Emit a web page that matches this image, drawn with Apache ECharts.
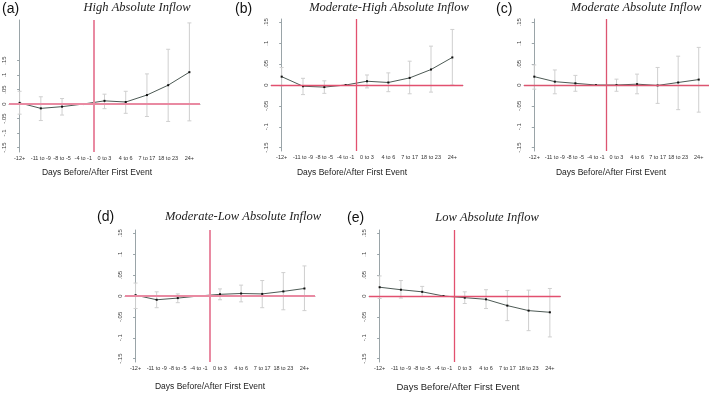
<!DOCTYPE html>
<html>
<head>
<meta charset="utf-8">
<script src="https://cdn.jsdelivr.net/npm/echarts@6/dist/echarts.min.js"></script>
<style>
  html, body { margin: 0; padding: 0; background: #fff; }
  #chart { width: 709px; height: 393px; }
</style>
</head>
<body>
<div id="chart"></div>
<script>
// day bins around the first event
const categories = ["-12+", "-11 to -9", "-8 to -5", "-4 to -1", "0 to 3", "4 to 6", "7 to 17", "18 to 23", "24+"];
const yTicks = [-0.15, -0.1, -0.05, 0, 0.05, 0.1, 0.15];
const yTickLabels = ["-.15", "-.1", "-.05", "0", ".05", ".1", ".15"];
const xTitle = "Days Before/After First Event";

// (a) High Absolute Inflow
const estA = [0.004, -0.015, -0.009, 0, 0.011, 0.007, 0.031, 0.065, 0.11];
const lowA = [-0.035, -0.057, -0.038, null, -0.016, -0.032, -0.043, -0.06, -0.058];
const highA = [0.044, 0.025, 0.019, null, 0.034, 0.044, 0.104, 0.189, 0.28];

// (b) Moderate-High Absolute Inflow
const estB = [0.02, -0.003, -0.005, 0, 0.009, 0.006, 0.017, 0.037, 0.066];
const lowB = [-0.002, -0.023, -0.02, null, -0.007, -0.016, -0.021, -0.017, 0.0];
const highB = [0.042, 0.016, 0.01, null, 0.024, 0.029, 0.057, 0.093, 0.133];

// (c) Moderate Absolute Inflow
const estC = [0.02, 0.008, 0.004, 0, 0.0, 0.002, -0.001, 0.006, 0.013];
const lowC = [-0.01, -0.021, -0.015, null, -0.015, -0.021, -0.044, -0.059, -0.065];
const highC = [0.048, 0.036, 0.023, null, 0.014, 0.026, 0.042, 0.069, 0.09];

// (d) Moderate-Low Absolute Inflow
const estD = [0.002, -0.009, -0.005, 0, 0.004, 0.006, 0.005, 0.011, 0.018];
const lowD = [-0.03, -0.028, -0.016, null, -0.009, -0.014, -0.028, -0.033, -0.035];
const highD = [0.031, 0.01, 0.005, null, 0.017, 0.026, 0.037, 0.056, 0.072];

// (e) Low Absolute Inflow
const estE = [0.021, 0.015, 0.01, 0, -0.004, -0.008, -0.023, -0.035, -0.039];
const lowE = [-0.006, -0.005, -0.001, null, -0.018, -0.03, -0.059, -0.083, -0.098];
const highE = [0.048, 0.037, 0.023, null, 0.01, 0.015, 0.013, 0.014, 0.018];

const panels = [
  { tag: "(a)", title: "High Absolute Inflow", est: estA, low: lowA, high: highA,
    grid: { left: 9, top: 20, width: 191, height: 132 }, yMin: -0.1655, yMax: 0.29,
    red: "#e98aa2", redW: 2, tagPos: [2, 9], titlePos: [137, 8], xtPos: [97, 173], xtSize: 8.5 },
  { tag: "(b)", title: "Moderate-High Absolute Inflow", est: estB, low: lowB, high: highB,
    grid: { left: 271, top: 19, width: 192, height: 132 }, yMin: -0.158, yMax: 0.158,
    red: "#e2506f", redW: 1.3, tagPos: [235, 9], titlePos: [389, 8], xtPos: [352, 173], xtSize: 8.5 },
  { tag: "(c)", title: "Moderate Absolute Inflow", est: estC, low: lowC, high: highC,
    grid: { left: 524, top: 19, width: 190.5, height: 132 }, yMin: -0.158, yMax: 0.158,
    red: "#dc5570", redW: 1.3, tagPos: [496, 9], titlePos: [636, 8], xtPos: [611, 173], xtSize: 8.5 },
  { tag: "(d)", title: "Moderate-Low Absolute Inflow", est: estD, low: lowD, high: highD,
    grid: { left: 125, top: 230, width: 190, height: 132 }, yMin: -0.158, yMax: 0.158,
    red: "#e98aa2", redW: 2, tagPos: [97, 217], titlePos: [243, 217], xtPos: [210, 387], xtSize: 8.5 },
  { tag: "(e)", title: "Low Absolute Inflow", est: estE, low: lowE, high: highE,
    grid: { left: 369, top: 230, width: 191.5, height: 132 }, yMin: -0.158, yMax: 0.158,
    red: "#e2506f", redW: 1.3, tagPos: [347, 218], titlePos: [487, 218], xtPos: [458, 387], xtSize: 9.5 }
];

const myChart = echarts.init(document.getElementById("chart"));

const grid = [], xAxis = [], yAxis = [], series = [], graphic = [];

panels.forEach(function (p, i) {
  grid.push(p.grid);

  // category axis (index 2i) and hidden value axis for the vertical line (2i+1)
  xAxis.push({
    type: "category", gridIndex: i, data: categories, boundaryGap: true,
    axisLine: { lineStyle: { color: "#9aa4a8", width: 1 } },
    axisTick: { alignWithLabel: true, length: 2.5, lineStyle: { color: "#9aa4a8" } },
    axisLabel: { interval: 0, fontSize: 5.5, color: "#333", margin: 3, fontFamily: "Liberation Sans" },
    splitLine: { show: false }
  });
  xAxis.push({ type: "value", gridIndex: i, min: -0.5, max: 8.5, show: false });

  yAxis.push({
    type: "value", gridIndex: i, min: p.yMin, max: p.yMax,
    axisLine: { show: true, lineStyle: { color: "#9aa4a8", width: 1 } },
    axisTick: { show: true, length: 2.5, customValues: yTicks, lineStyle: { color: "#9aa4a8" } },
    axisLabel: {
      customValues: yTicks, rotate: 90, fontSize: 6, color: "#444", margin: 2,
      fontFamily: "Liberation Sans",
      formatter: function (v) {
        const k = yTicks.findIndex(function (t) { return Math.abs(t - v) < 1e-6; });
        return k >= 0 ? yTickLabels[k] : "";
      }
    },
    splitLine: { show: false }
  });

  // confidence intervals
  const bars = [];
  categories.forEach(function (c, j) {
    if (p.low[j] != null) bars.push([j, p.low[j], p.high[j]]);
  });
  series.push({
    type: "custom", xAxisIndex: 2 * i, yAxisIndex: i, data: bars, z: 2,
    encode: { x: 0, y: [1, 2] },
    renderItem: function (params, api) {
      const x = api.value(0);
      const top = api.coord([x, api.value(2)]);
      const bot = api.coord([x, api.value(1)]);
      const st = { stroke: "#cfcfcf", lineWidth: 1 };
      return {
        type: "group",
        children: [
          { type: "line", shape: { x1: top[0], y1: top[1], x2: bot[0], y2: bot[1] }, style: st },
          { type: "line", shape: { x1: top[0] - 2, y1: top[1], x2: top[0] + 2, y2: top[1] }, style: st },
          { type: "line", shape: { x1: bot[0] - 2, y1: bot[1], x2: bot[0] + 2, y2: bot[1] }, style: st }
        ]
      };
    }
  });

  // zero line
  series.push({
    type: "line", xAxisIndex: 2 * i, yAxisIndex: i, data: [], z: 3,
    markLine: {
      silent: true, symbol: "none", label: { show: false },
      lineStyle: { color: p.red, width: p.redW, type: "solid" },
      data: [{ yAxis: 0 }]
    }
  });

  // event line between "-4 to -1" and "0 to 3"
  series.push({
    type: "line", xAxisIndex: 2 * i + 1, yAxisIndex: i, data: [], z: 3,
    markLine: {
      silent: true, symbol: "none", label: { show: false },
      lineStyle: { color: p.red, width: p.redW, type: "solid" },
      data: [{ xAxis: 3.5 }]
    }
  });

  // point estimates
  series.push({
    type: "line", xAxisIndex: 2 * i, yAxisIndex: i, data: p.est, z: 4,
    symbol: "rect", symbolSize: 2,
    itemStyle: { color: "#111" },
    lineStyle: { color: "#4d5a55", width: 1 }
  });

  graphic.push({
    type: "text", x: p.tagPos[0], y: p.tagPos[1],
    style: { text: p.tag, font: "14px 'Liberation Sans'", fill: "#111", align: "left", verticalAlign: "middle" }
  });
  graphic.push({
    type: "text", x: p.titlePos[0], y: p.titlePos[1],
    style: { text: p.title, font: "italic 12.5px 'Liberation Serif'", fill: "#222", align: "center", verticalAlign: "middle" }
  });
  graphic.push({
    type: "text", x: p.xtPos[0], y: p.xtPos[1],
    style: { text: xTitle, font: p.xtSize + "px 'Liberation Sans'", fill: "#222", align: "center", verticalAlign: "middle" }
  });
});

myChart.setOption({
  animation: false,
  backgroundColor: "#fff",
  grid: grid,
  xAxis: xAxis,
  yAxis: yAxis,
  series: series,
  graphic: graphic
});
</script>
</body>
</html>
